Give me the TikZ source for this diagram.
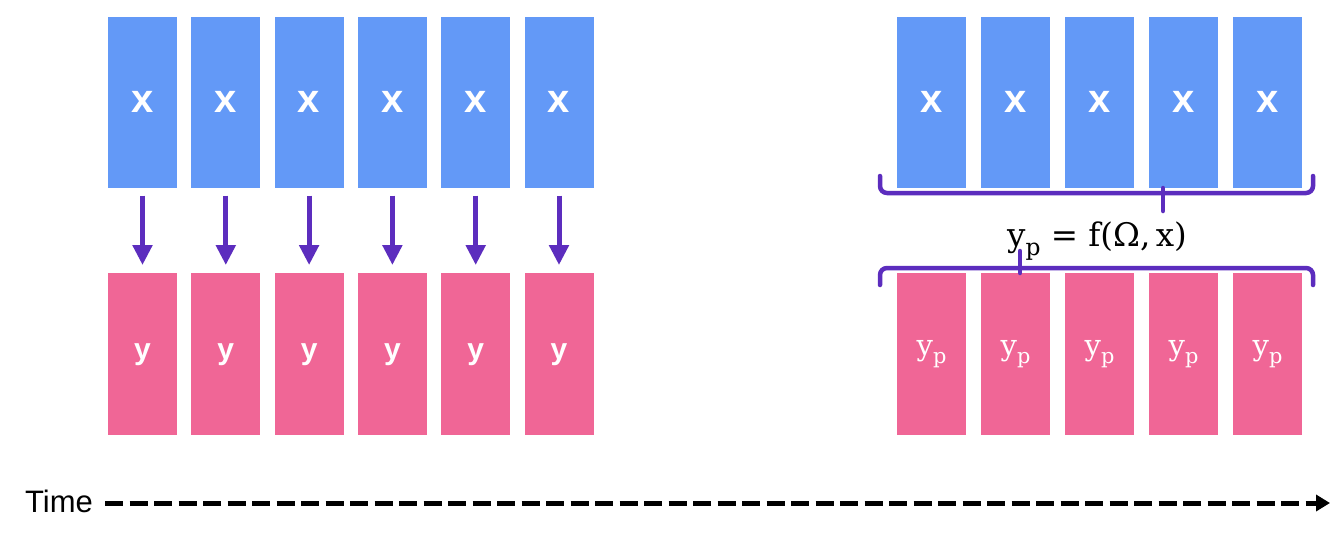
\documentclass[tikz,border=0pt]{standalone}
\usepackage{fontspec}
\setsansfont{Liberation Sans}
\newfontfamily\formfont{DejaVu Serif}
\usetikzlibrary{arrows.meta}
\definecolor{boxblue}{RGB}{99,153,247}
\definecolor{boxpink}{RGB}{240,102,150}
\definecolor{arrowpurple}{RGB}{92,45,190}
\newcommand{\subp}{\raisebox{-0.28em}{\scalebox{0.72}{p}}}
\tikzset{
  xbox/.style={fill=boxblue, draw=none, minimum width=69pt, minimum height=170.5pt, inner sep=0pt,
    text=white, font=\sffamily\bfseries\fontsize{40}{44}\selectfont},
  ybox/.style={fill=boxpink, draw=none, minimum width=69pt, minimum height=162pt, inner sep=0pt,
    text=white, font=\sffamily\bfseries\fontsize{30}{36}\selectfont},
  ypbox/.style={fill=boxpink, draw=none, minimum width=69pt, minimum height=162pt, inner sep=0pt,
    text=white, font=\formfont\fontsize{29}{34}\selectfont},
  maparrow/.style={draw=arrowpurple, line width=5pt, -{Triangle[width=19pt,length=20pt]}},
  bracepath/.style={draw=arrowpurple, line width=4.5pt, rounded corners=7pt, line cap=round},
  timearrow/.style={draw=black, line width=5pt, dash pattern=on 18pt off 6.5pt, -{Triangle[width=16pt,length=14pt]}}
}
\begin{document}
\begin{tikzpicture}[x=1pt,y=-1pt]
\useasboundingbox (0,0) rectangle (1340,538);
\fill[white] (0,0) rectangle (1340,538);
% left columns
\foreach \i in {0,...,5} {
  \node[xbox] (lx\i) at ({142.5+83.3*\i},102.25) {x};
  \node[ybox] (ly\i) at ({142.5+83.3*\i},354.25) {\raisebox{3pt}{y}};
  \draw[maparrow] ([yshift=-8pt]lx\i.south) -- ([yshift=8pt]ly\i.north);
}
% right columns
\foreach \i in {0,...,4} {
  \node[xbox] (rx\i) at ({931.5+84*\i},102.25) {x};
  \node[ypbox] (ry\i) at ({931.5+84*\i},354.25) {\raisebox{4pt}{y\subp}};
}
% braces
\coordinate (tb1) at (880,176);
\coordinate (tb2) at (880,193);
\coordinate (tb3) at (1313,193);
\coordinate (tb4) at (1313,176);
\coordinate (ttip0) at (1163,188);
\coordinate (ttip) at (1163,211);
\draw[bracepath] (tb1) -- (tb2) -- (tb3) -- (tb4);
\draw[bracepath, rounded corners=0pt] (ttip0) -- (ttip);
\coordinate (bb1) at (880,285);
\coordinate (bb2) at (880,268);
\coordinate (bb3) at (1313,268);
\coordinate (bb4) at (1313,285);
\coordinate (btip0) at (1020,273);
\coordinate (btip) at (1020,251);
\draw[bracepath] (bb1) -- (bb2) -- (bb3) -- (bb4);
\draw[bracepath, rounded corners=0pt] (btip0) -- (btip);
\node[font=\formfont\fontsize{32.5}{38}\selectfont, anchor=base, inner sep=0pt] (formula) at (1097,246)
  {y\subp{} = f(Ω,\,x)};
% time axis
\node[font=\sffamily\fontsize{31}{36}\selectfont, anchor=base west, inner sep=0pt] (time) at (25,512) {Time};
\coordinate (tend) at (1330,503);
\draw[timearrow] ([xshift=12pt]time.east |- tend) -- (tend);
\end{tikzpicture}
\end{document}
